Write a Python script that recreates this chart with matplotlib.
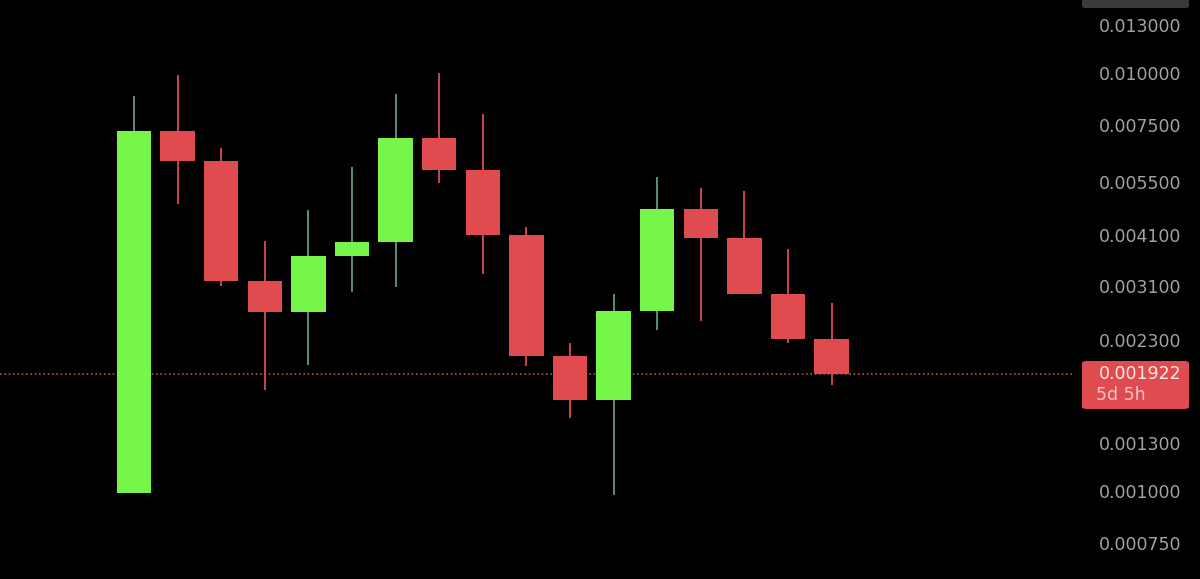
import matplotlib
matplotlib.use("Agg")
from matplotlib import pyplot as plt
from matplotlib.patches import Rectangle, FancyBboxPatch
from matplotlib.transforms import blended_transform_factory

# candle data
opens  = [0.00100, 0.00736, 0.00622, 0.00321, 0.00271, 0.00368, 0.00399, 0.00706, 0.00593,
          0.00414, 0.00213, 0.00167, 0.00273, 0.00478, 0.00408, 0.00300, 0.00234]
highs  = [0.00891, 0.01002, 0.00668, 0.00401, 0.00475, 0.00603, 0.00901, 0.01013, 0.00805,
          0.00432, 0.00228, 0.00300, 0.00569, 0.00536, 0.00528, 0.00383, 0.00285]
lows   = [0.00100, 0.00491, 0.00312, 0.00176, 0.00202, 0.00302, 0.00311, 0.00551, 0.00335,
          0.00201, 0.00151, 0.00099, 0.00246, 0.00258, 0.00300, 0.00228, 0.00181]
closes = [0.00736, 0.00622, 0.00321, 0.00271, 0.00368, 0.00399, 0.00706, 0.00593, 0.00414,
          0.00213, 0.00167, 0.00273, 0.00478, 0.00408, 0.00300, 0.00234, 0.001922]

tick_values = [0.013, 0.010, 0.0075, 0.0055, 0.0041, 0.0031, 0.0023, 0.0013, 0.0010, 0.00075]
tick_labels = ["0.013000", "0.010000", "0.007500", "0.005500", "0.004100", "0.003100",
               "0.002300", "0.001300", "0.001000", "0.000750"]
last_price = 0.001922
last_label = "0.001922"
countdown = "5d 5h"

green = "#77f64a"
green_wick = "#5e9c82"
red = "#e04b50"

fig = plt.figure(figsize=(12, 5.79), dpi=100, facecolor="black")
ax = fig.add_axes([0, 0, 1, 1])
ax.set_facecolor("black")
ax.set_yscale("log")

# 43.6 px per candle, first candle at x=134px
ax.set_xlim(-134 / 43.6, (1200 - 134) / 43.6)
ax.set_ylim(0.001 * 10 ** (-86 / 418), 0.001 * 10 ** (493 / 418))

w = 0.79
for i in range(len(opens)):
    o, h, l, c = opens[i], highs[i], lows[i], closes[i]
    up = c >= o
    body = green if up else red
    wick = green_wick if up else red
    ax.vlines(i, l, h, color=wick, lw=1.3, zorder=2)
    ax.add_patch(Rectangle((i - w / 2, min(o, c)), w, abs(c - o),
                           facecolor=body, edgecolor="none", zorder=3))

# last price dotted line
x_end = (1075 - 134) / 43.6
ax.plot([ax.get_xlim()[0], x_end], [last_price, last_price], color="#b5553f",
        lw=1.2, ls=(0, (1, 1.6)), zorder=1)

ax.set_xticks([])
ax.set_yticks([])
ax.minorticks_off()
for s in ax.spines.values():
    s.set_visible(False)

tr = blended_transform_factory(fig.transFigure, ax.transData)
for v, t in zip(tick_values, tick_labels):
    ax.text(1181 / 1200, v, t, transform=tr, ha="right", va="center",
            color="#a3a3a3", fontsize=12.5)

# price tag box
ftr = fig.transFigure
fig.patches.append(FancyBboxPatch((1082 / 1200, (579 - 409) / 579), 107 / 1200, 48 / 579,
                                  boxstyle="round,pad=0,rounding_size=0.004",
                                  facecolor=red, edgecolor="none", transform=ftr))
fig.text(1181 / 1200, (579 - 374) / 579, last_label, ha="right", va="center",
         color="#fbecec", fontsize=12.5)
fig.text(1096 / 1200, (579 - 395) / 579, countdown, ha="left", va="center",
         color="#f5c8c8", fontsize=12.5)

# dark tab at top right
fig.patches.append(FancyBboxPatch((1082 / 1200, (579 - 8) / 579), 107 / 1200, 12 / 579,
                                  boxstyle="round,pad=0,rounding_size=0.003",
                                  facecolor="#3a3a3e", edgecolor="none", transform=ftr))

fig.savefig("out.png", dpi=100, facecolor="black")
